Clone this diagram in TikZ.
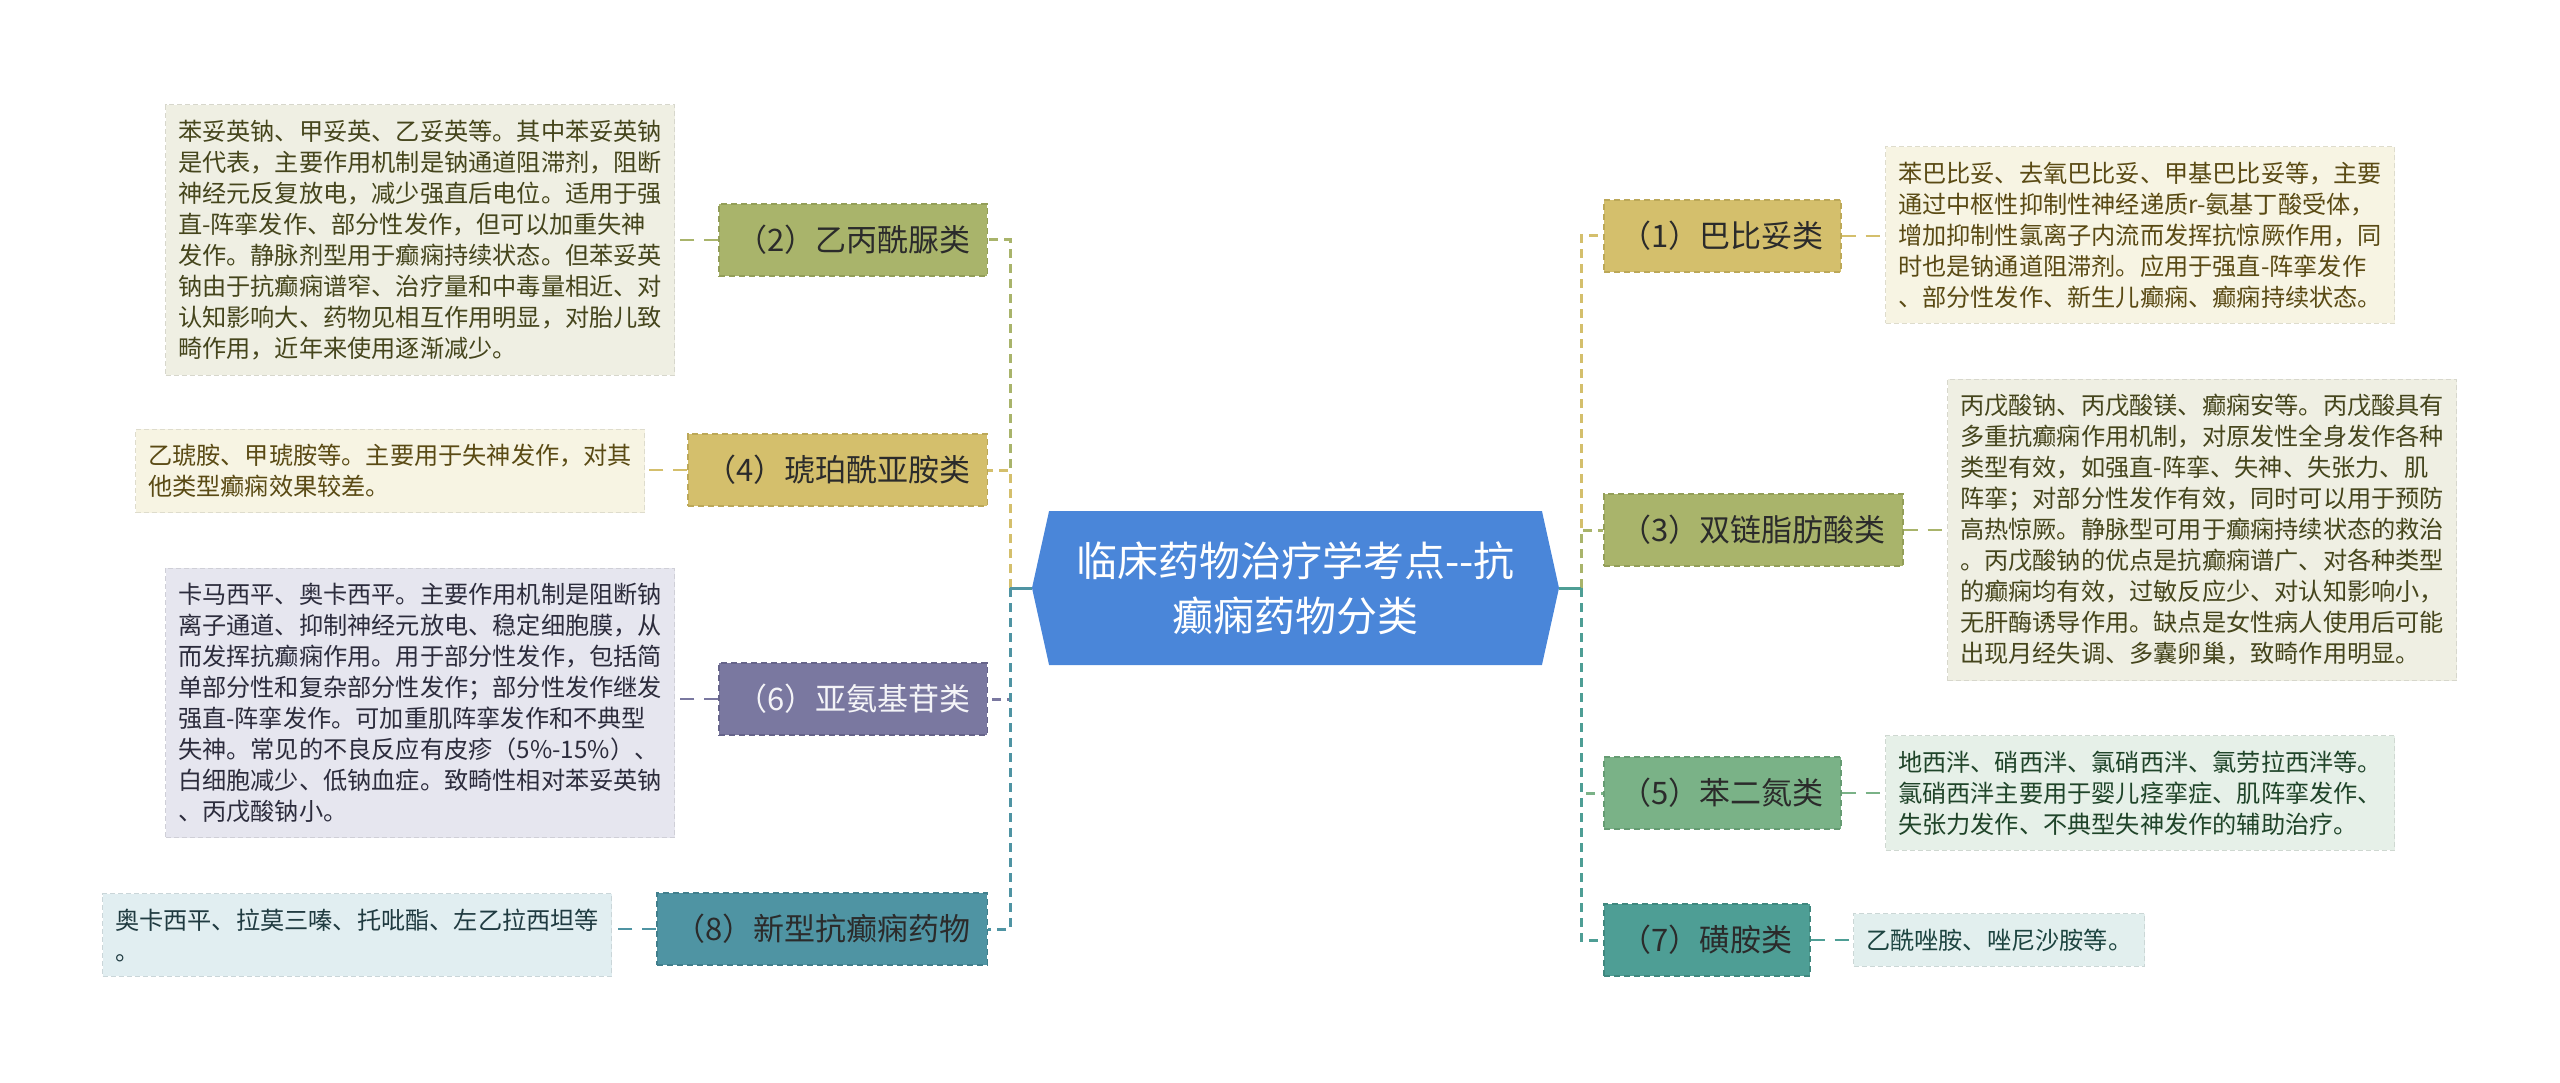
\documentclass[tikz,border=0pt]{standalone}
\usepackage{fontspec}
\setmainfont{Noto Sans CJK SC}
\usepackage{tikz}
\usetikzlibrary{shapes.symbols}
\definecolor{FontColor}{HTML}{2B2B2B}
\definecolor{RootNC}{HTML}{4A86D9}
\definecolor{OliveNC}{HTML}{A9B46B}
\definecolor{OliveDk}{HTML}{939E58}
\definecolor{GoldNC}{HTML}{D4BF6C}
\definecolor{GoldDk}{HTML}{BCA858}
\definecolor{PurpleNC}{HTML}{7A78A0}
\definecolor{PurpleDk}{HTML}{66648A}
\definecolor{BlueNC}{HTML}{4F94A3}
\definecolor{BlueDk}{HTML}{417F8C}
\definecolor{GreenNC}{HTML}{7AB287}
\definecolor{GreenDk}{HTML}{669C73}
\definecolor{TealNC}{HTML}{4E9E95}
\definecolor{TealDk}{HTML}{40887F}
\definecolor{OliveLf}{HTML}{EFEFE3}
\definecolor{GoldLf}{HTML}{F7F4E3}
\definecolor{PurpleLf}{HTML}{E6E6EF}
\definecolor{BlueLf}{HTML}{E1EEF1}
\definecolor{GreenLf}{HTML}{E6F0E8}
\definecolor{TealLf}{HTML}{E2EFEE}
\definecolor{OliveTx}{HTML}{45451C}
\definecolor{GoldTx}{HTML}{5A4A14}
\definecolor{PurpleTx}{HTML}{2C2C3C}
\definecolor{BlueTx}{HTML}{1F3A40}
\definecolor{GreenTx}{HTML}{1F4429}
\definecolor{TealTx}{HTML}{1D4440}
\newcommand\noderoot{临床药物治疗学考点-{}-抗\\癫痫药物分类}
\newcommand\nodebb{（1）巴比妥类}
\newcommand\nodeyb{（2）乙丙酰脲类}
\newcommand\nodesl{（3）双链脂肪酸类}
\newcommand\nodehp{（4）琥珀酰亚胺类}
\newcommand\nodebe{（5）苯二氮类}
\newcommand\nodeya{（6）亚氨基苷类}
\newcommand\nodehb{（7）磺胺类}
\newcommand\nodexx{（8）新型抗癫痫药物}
\tikzstyle{mynodestyle} = [rectangle, minimum height=72pt, inner xsep=17pt, text=FontColor, font=\fontsize{31}{31}\selectfont, dash pattern=on 6pt off 4pt, line width=1.5pt]
\tikzstyle{kn} = [mynodestyle, draw=OliveDk, fill=OliveNC]
\tikzstyle{yn} = [mynodestyle, draw=GoldDk, fill=GoldNC]
\tikzstyle{pn} = [mynodestyle, draw=PurpleDk, fill=PurpleNC, text=white!92!PurpleNC]
\tikzstyle{bn} = [mynodestyle, draw=BlueDk, fill=BlueNC]
\tikzstyle{gn} = [mynodestyle, draw=GreenDk, fill=GreenNC]
\tikzstyle{tn} = [mynodestyle, draw=TealDk, fill=TealNC]
\tikzstyle{myleafstyle} = [rectangle, align=left, inner xsep=12.5pt, inner ysep=15pt, font=\fontsize{24.2}{31}\selectfont, dash pattern=on 5pt off 3pt, line width=1pt]
\tikzstyle{kl} = [myleafstyle, draw=OliveLf!90!black, fill=OliveLf, text=OliveTx]
\tikzstyle{yl} = [myleafstyle, draw=GoldLf!90!black, fill=GoldLf, text=GoldTx]
\tikzstyle{pl} = [myleafstyle, draw=PurpleLf!90!black, fill=PurpleLf, text=PurpleTx]
\tikzstyle{bl} = [myleafstyle, draw=BlueLf!90!black, fill=BlueLf, text=BlueTx]
\tikzstyle{gl} = [myleafstyle, draw=GreenLf!90!black, fill=GreenLf, text=GreenTx]
\tikzstyle{tl} = [myleafstyle, draw=TealLf!90!black, fill=TealLf, text=TealTx]
\tikzstyle{rn} = [shape=signal, signal to=west and east, signal pointer angle=155, fill=RootNC, text=white, align=center, font=\fontsize{41}{55}\selectfont, minimum width=527pt, minimum height=154pt, inner sep=0pt]
\tikzstyle{trunk} = [line width=3pt, dash pattern=on 9pt off 6pt]
\tikzstyle{twig} = [line width=2.5pt, dash pattern=on 14pt off 10pt]
\tikzset{every picture/.style={x=1pt, y=-1pt}}

\begin{document}
\begin{tikzpicture}
\useasboundingbox (0,0) rectangle (2560,1083);
\node[rn] (root) at (1295.5,588) {\noderoot};
\node[kn, anchor=east] (yb) at (988,240) {\nodeyb};
\node[yn, anchor=east] (hp) at (988,470) {\nodehp};
\node[pn, anchor=east] (ya) at (988,699) {\nodeya};
\node[bn, anchor=east] (xx) at (988,929) {\nodexx};
\node[yn, anchor=west] (bb) at (1603,236) {\nodebb};
\node[kn, anchor=west] (sl) at (1603,530) {\nodesl};
\node[gn, anchor=west] (be) at (1603,793) {\nodebe};
\node[tn, anchor=west] (hb) at (1603,940) {\nodehb};
\node[kl, anchor=east] (ybl) at (675,240) {苯妥英钠、甲妥英、乙妥英等。其中苯妥英钠\\是代表，主要作用机制是钠通道阻滞剂，阻断\\神经元反复放电，减少强直后电位。适用于强\\直-阵挛发作、部分性发作，但可以加重失神\\发作。静脉剂型用于癫痫持续状态。但苯妥英\\钠由于抗癫痫谱窄、治疗量和中毒量相近、对\\认知影响大、药物见相互作用明显，对胎儿致\\畸作用，近年来使用逐渐减少。};
\node[yl, anchor=east] (hpl) at (645,471) {乙琥胺、甲琥胺等。主要用于失神发作，对其\\他类型癫痫效果较差。};
\node[pl, anchor=east] (yal) at (675,703) {卡马西平、奥卡西平。主要作用机制是阻断钠\\离子通道、抑制神经元放电、稳定细胞膜，从\\而发挥抗癫痫作用。用于部分性发作，包括简\\单部分性和复杂部分性发作；部分性发作继发\\强直-阵挛发作。可加重肌阵挛发作和不典型\\失神。常见的不良反应有皮疹（5\%-15\%）、\\白细胞减少、低钠血症。致畸性相对苯妥英钠\\、丙戊酸钠小。};
\node[bl, anchor=east] (xxl) at (612,935) {奥卡西平、拉莫三嗪、托吡酯、左乙拉西坦等\\。};
\node[yl, anchor=west] (bbl) at (1885,235) {苯巴比妥、去氧巴比妥、甲基巴比妥等，主要\\通过中枢性抑制性神经递质r-氨基丁酸受体，\\增加抑制性氯离子内流而发挥抗惊厥作用，同\\时也是钠通道阻滞剂。应用于强直-阵挛发作\\、部分性发作、新生儿癫痫、癫痫持续状态。};
\node[kl, anchor=west] (sll) at (1947,530) {丙戊酸钠、丙戊酸镁、癫痫安等。丙戊酸具有\\多重抗癫痫作用机制，对原发性全身发作各种\\类型有效，如强直-阵挛、失神、失张力、肌\\阵挛；对部分性发作有效，同时可以用于预防\\高热惊厥。静脉型可用于癫痫持续状态的救治\\。丙戊酸钠的优点是抗癫痫谱广、对各种类型\\的癫痫均有效，过敏反应少、对认知影响小，\\无肝酶诱导作用。缺点是女性病人使用后可能\\出现月经失调、多囊卵巢，致畸作用明显。};
\node[gl, anchor=west] (bel) at (1885,793) {地西泮、硝西泮、氯硝西泮、氯劳拉西泮等。\\氯硝西泮主要用于婴儿痉挛症、肌阵挛发作、\\失张力发作、不典型失神发作的辅助治疗。};
\node[tl, anchor=west] (hbl) at (1853,940) {乙酰唑胺、唑尼沙胺等。};
\coordinate (lj) at (1010,588);
\coordinate (rj) at (1581,588);
\draw [trunk, draw=OliveNC] (lj) |- (yb.east);
\draw [trunk, draw=GoldNC] (lj) |- (hp.east);
\draw [trunk, draw=PurpleNC] (lj) |- (ya.east);
\draw [trunk, draw=BlueNC] (lj) |- (xx.east);
\draw [trunk, draw=GoldNC] (rj) |- (bb.west);
\draw [trunk, draw=OliveNC] (rj) |- (sl.west);
\draw [trunk, draw=GreenNC] (rj) |- (be.west);
\draw [trunk, draw=TealNC] (rj) |- (hb.west);
\draw [line width=3pt, draw=BlueNC] (root.west) -- (lj);
\draw [line width=3pt, draw=TealNC] (root.east) -- (rj);
\draw [twig, draw=OliveNC] (yb.west) -- (yb.west -| ybl.east);
\draw [twig, draw=GoldNC] (hp.west) -- (hp.west -| hpl.east);
\draw [twig, draw=PurpleNC] (ya.west) -- (ya.west -| yal.east);
\draw [twig, draw=BlueNC] (xx.west) -- (xx.west -| xxl.east);
\draw [twig, draw=GoldNC] (bb.east) -- (bb.east -| bbl.west);
\draw [twig, draw=OliveNC] (sl.east) -- (sl.east -| sll.west);
\draw [twig, draw=GreenNC] (be.east) -- (be.east -| bel.west);
\draw [twig, draw=TealNC] (hb.east) -- (hb.east -| hbl.west);
\end{tikzpicture}
\end{document}
